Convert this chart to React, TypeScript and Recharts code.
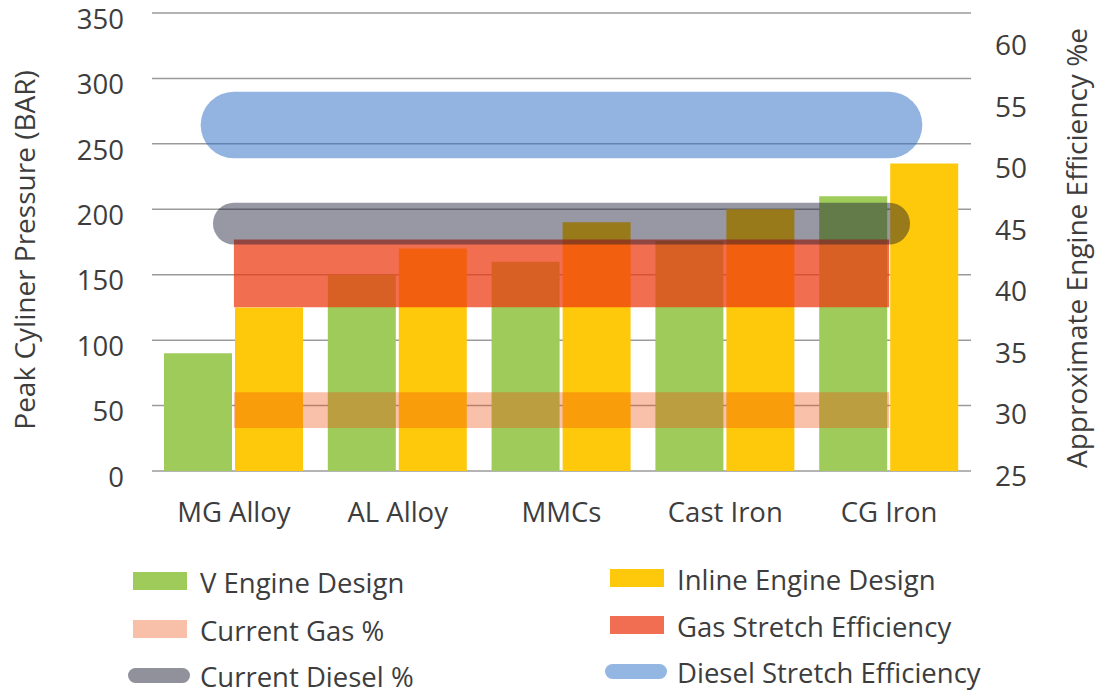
import React from 'react';
import { ComposedChart, Bar, XAxis, YAxis, CartesianGrid, ReferenceArea, Label } from 'recharts';

const categories = ['MG Alloy', 'AL Alloy', 'MMCs', 'Cast Iron', 'CG Iron'];
const vEngineDesign = [90, 150, 160, 176, 210];
const inlineEngineDesign = [125, 170, 190, 200, 235];
const pressureTicks = [0, 50, 100, 150, 200, 250, 300, 350];
const efficiencyTicks = [25, 30, 35, 40, 45, 50, 55, 60];
// efficiency bands (% on right axis): [low, high]
const currentGas = [28.9, 31.8];
const gasStretch = [38.7, 44.2];
const currentDiesel = [43.8, 47.2];
const dieselStretch = [50.8, 56.2];

const FONT = "'Open Sans', 'Noto Sans', sans-serif";
const TEXT = '#3d3d3d';

const data = categories.map((name, i) => ({
  name,
  idx: i,
  v: vEngineDesign[i],
  inline: inlineEngineDesign[i],
}));

const legendItems = [
  { name: 'V Engine Design', color: '#9FCB5B', shape: 'rect', col: 0, row: 0 },
  { name: 'Inline Engine Design', color: '#FFC90B', shape: 'rect', col: 1, row: 0 },
  { name: 'Current Gas %', color: '#F9C0A9', shape: 'rect', col: 0, row: 1 },
  { name: 'Gas Stretch Efficiency', color: '#F26E52', shape: 'rect', col: 1, row: 1 },
  { name: 'Current Diesel %', color: '#91919C', shape: 'capsule', col: 0, row: 2 },
  { name: 'Diesel Stretch Efficiency', color: '#93B6E2', shape: 'capsule', col: 1, row: 2 },
];

const Capsule = (props: any) => {
  const { x, y, width, height, fill, fillOpacity } = props;
  if (x == null || y == null) return null;
  const r = height / 2;
  return (
    <rect
      x={x - r}
      y={y}
      width={width + 2 * r}
      height={height}
      rx={r}
      ry={r}
      fill={fill}
      fillOpacity={fillOpacity}
    />
  );
};

const Legend = () => {
  const colIcon = [133, 610];
  const colText = [200, 677];
  const rowY = [
    [583, 631, 677],
    [580, 627, 673],
  ];
  return (
    <>
      {legendItems.map((it) => {
        const cy = rowY[it.col][it.row];
        const isCap = it.shape === 'capsule';
        const w = isCap ? 62 : 54;
        const h = isCap ? 15 : 18;
        const ix = isCap ? colIcon[it.col] - 5 : colIcon[it.col];
        return (
          <React.Fragment key={it.name}>
            <div
              style={{
                position: 'absolute',
                left: ix,
                top: cy - h / 2 - 2,
                width: w,
                height: h,
                background: it.color,
                borderRadius: isCap ? h / 2 : 0,
              }}
            />
            <div
              style={{
                position: 'absolute',
                left: colText[it.col],
                top: cy - 19,
                height: 38,
                lineHeight: '38px',
                fontSize: 27.5,
                color: TEXT,
                fontFamily: FONT,
                whiteSpace: 'nowrap',
              }}
            >
              {it.name}
            </div>
          </React.Fragment>
        );
      })}
    </>
  );
};

export default function App() {
  const tickStyle = { fill: TEXT, fontSize: 28, fontFamily: FONT };
  return (
    <div
      style={{
        position: 'absolute',
        left: 0,
        top: 0,
        width: 1099,
        height: 693,
        background: '#fff',
        fontFamily: FONT,
      }}
    >
      <ComposedChart
        width={1099}
        height={693}
        data={data}
        margin={{ top: 13, right: 0, bottom: 182, left: 10 }}
        barGap={3}
        barSize={68}
      >
        <CartesianGrid
          xAxisId="cat"
          yAxisId="left"
          vertical={false}
          stroke="#9b9b9b"
          strokeWidth={1.5}
        />
        <XAxis
          xAxisId="cat"
          dataKey="name"
          height={40}
          axisLine={false}
          tickLine={false}
          tickSize={0}
          tickMargin={31}
          interval={0}
          tick={{ ...tickStyle, fontSize: 27.5 }}
        />
        <XAxis
          xAxisId="num"
          dataKey="idx"
          type="number"
          domain={[-0.5, categories.length - 0.5]}
          allowDataOverflow
          hide
        />
        <YAxis
          yAxisId="left"
          width={142}
          domain={[0, 350]}
          ticks={pressureTicks}
          interval={0}
          axisLine={false}
          tickLine={false}
          tickSize={0}
          tickMargin={28}
          tick={{ ...tickStyle, fontSize: 27.5, dy: 6 }}
        >
          <Label
            value="Peak Cyliner Pressure (BAR)"
            angle={-90}
            position="insideLeft"
            offset={15}
            dy={8}
            fill={TEXT}
            fontSize={28}
            fontFamily={FONT}
            style={{ textAnchor: 'middle' }}
          />
        </YAxis>
        <YAxis
          yAxisId="right"
          orientation="right"
          width={128}
          domain={[25.41, 62.6]}
          allowDataOverflow
          ticks={efficiencyTicks}
          interval={0}
          axisLine={false}
          tickLine={false}
          tickSize={0}
          tickMargin={24}
          tick={tickStyle}
        >
          <Label
            value="Approximate Engine Efficiency %e"
            angle={-90}
            position="insideRight"
            offset={22}
            dy={6}
            fill={TEXT}
            fontSize={28}
            fontFamily={FONT}
            style={{ textAnchor: 'middle' }}
          />
        </YAxis>
        <Bar
          xAxisId="cat"
          yAxisId="left"
          dataKey="v"
          name="V Engine Design"
          fill="#9FCB5B"
          isAnimationActive={false}
        />
        <Bar
          xAxisId="cat"
          yAxisId="left"
          dataKey="inline"
          name="Inline Engine Design"
          fill="#FFC90B"
          isAnimationActive={false}
        />
        <ReferenceArea
          xAxisId="num"
          yAxisId="right"
          x1={0}
          x2={categories.length - 1}
          y1={currentGas[0]}
          y2={currentGas[1]}
          fill="#EE4B0C"
          fillOpacity={0.35}
          stroke="none"
          zIndex={450}
        />
        <ReferenceArea
          xAxisId="num"
          yAxisId="right"
          x1={0}
          x2={categories.length - 1}
          y1={gasStretch[0]}
          y2={gasStretch[1]}
          fill="#ED3811"
          fillOpacity={0.73}
          stroke="none"
          zIndex={460}
        />
        <ReferenceArea
          xAxisId="num"
          yAxisId="right"
          x1={0}
          x2={categories.length - 1}
          y1={currentDiesel[0]}
          y2={currentDiesel[1]}
          fill="#141430"
          fillOpacity={0.44}
          stroke="none"
          shape={Capsule}
          zIndex={470}
        />
        <ReferenceArea
          xAxisId="num"
          yAxisId="right"
          x1={0}
          x2={categories.length - 1}
          y1={dieselStretch[0]}
          y2={dieselStretch[1]}
          fill="#2F6FC4"
          fillOpacity={0.52}
          stroke="none"
          shape={Capsule}
          zIndex={480}
        />
      </ComposedChart>
      <Legend />
    </div>
  );
}
